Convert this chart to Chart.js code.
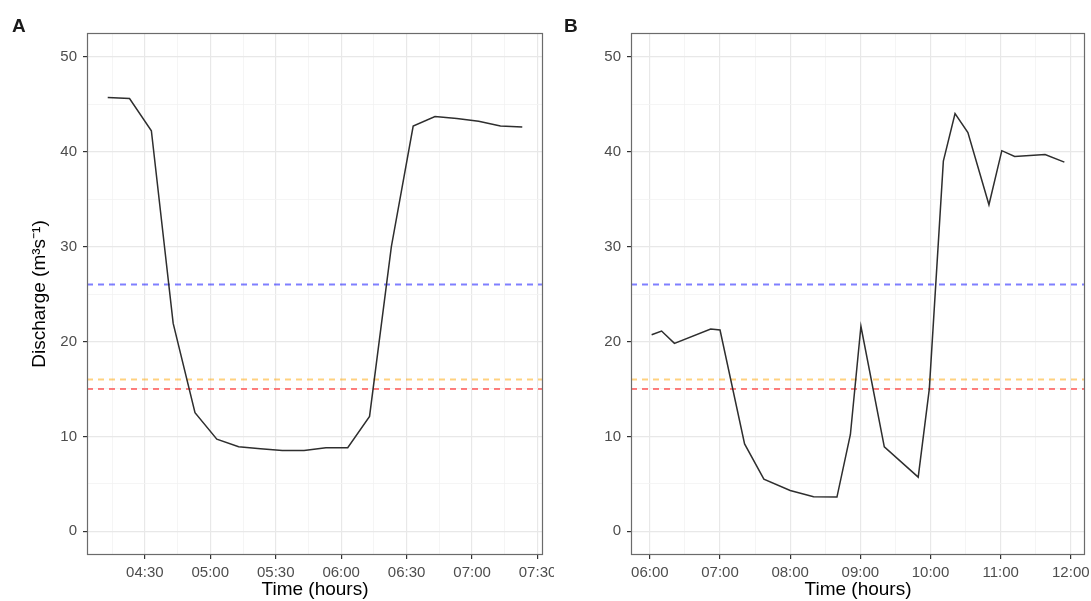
<!DOCTYPE html>
<html>
<head>
<meta charset="utf-8">
<script src="https://cdn.jsdelivr.net/npm/chart.js@4/dist/chart.umd.min.js"></script>
<style>
  html, body { margin: 0; padding: 0; background: #fff; }
  #page { position: relative; width: 1091px; height: 601px; overflow: hidden; background: #fff; }
  .panel { position: absolute; top: 0; height: 601px; }
  .tag { position: absolute; font: bold 19px 'Liberation Sans', Arial, sans-serif; line-height: 19px; color: #1a1a1a; }
</style>
</head>
<body>
<div id="page">
  <div class="panel" style="left:0; width:554px"><canvas id="chartA"></canvas></div>
  <div class="panel" style="left:554px; width:537px"><canvas id="chartB"></canvas></div>
  <div class="tag" style="left:12px; top:16px">A</div>
  <div class="tag" style="left:564px; top:16px">B</div>
</div>
<script>
// panel A
const timesA = ["04:13", "04:23", "04:33", "04:43", "04:53", "05:03", "05:13", "05:23", "05:33", "05:43",
                "05:53", "06:03", "06:13", "06:23", "06:33", "06:43", "06:53", "07:03", "07:13", "07:23"];
const flowA = [45.7, 45.6, 42.2, 21.9, 12.5, 9.7, 8.9, 8.7, 8.5, 8.5,
               8.8, 8.8, 12.1, 30.0, 42.7, 43.7, 43.5, 43.2, 42.7, 42.6];
const xTicksA = ["04:30", "05:00", "05:30", "06:00", "06:30", "07:00", "07:30"];

// panel B
const timesB = ["06:01:30", "06:10", "06:21", "06:52", "07:00", "07:21", "07:37:30", "08:00", "08:20", "08:40",
                "08:51:30", "09:00:30", "09:20:30", "09:49:30", "09:59", "10:11", "10:21", "10:32", "10:50", "11:01",
                "11:12", "11:38", "11:54:30"];
const flowB = [20.7, 21.1, 19.8, 21.3, 21.2, 9.2, 5.5, 4.3, 3.65, 3.6,
               10.2, 21.6, 8.9, 5.7, 15.0, 39.0, 44.0, 42.0, 34.4, 40.1,
               39.5, 39.7, 38.9];
const xTicksB = ["06:00", "07:00", "08:00", "09:00", "10:00", "11:00", "12:00"];

// shared
const yTicks = [0, 10, 20, 30, 40, 50];
const thresholds = [26, 16, 15];
const thresholdColors = ["rgba(0,0,255,0.5)", "rgba(255,165,0,0.5)", "rgba(255,0,0,0.5)"];

const FONT = "'Liberation Sans', Arial, sans-serif";
Chart.defaults.font.family = FONT;

function toMin(t) {
  const p = t.split(":").map(Number);
  return p[0] * 60 + p[1] + (p[2] || 0) / 60;
}
function fmt(m) {
  const h = Math.floor(m / 60), mm = Math.round(m - h * 60);
  return String(h).padStart(2, "0") + ":" + String(mm).padStart(2, "0");
}
// major ticks plus the minor ones half way between (ggplot style)
function withMinor(major, lo, hi) {
  const step = major[1] - major[0];
  const out = [];
  for (let i = -1; i < major.length; i++) {
    const v = i < 0 ? major[0] - step / 2 : major[i];
    if (i >= 0) out.push({ value: v, major: true });
    const m = i < 0 ? v : v + step / 2;
    if (m >= lo && m <= hi) out.push({ value: m, major: false });
  }
  return out.sort((a, b) => a.value - b.value);
}

const frame = {
  id: "frame",
  afterDraw(chart) {
    const { ctx, chartArea: a } = chart;
    ctx.save();
    ctx.strokeStyle = "#6b6b6b";
    ctx.lineWidth = 1.2;
    ctx.strokeRect(Math.round(a.left) + 0.5, Math.round(a.top) + 0.5,
                   Math.round(a.right - a.left) - 1, Math.round(a.bottom - a.top) - 1);
    ctx.restore();
  }
};

function makePanel(id, times, flows, tickLabels, yWidth, rightPad, showTitle) {
  const xs = times.map(toMin);
  const span = xs[xs.length - 1] - xs[0];
  const xMin = xs[0] - 0.05 * span, xMax = xs[xs.length - 1] + 0.05 * span;
  const yMin = yTicks[0] - 0.05 * (yTicks[yTicks.length - 1] - yTicks[0]);
  const yMax = yTicks[yTicks.length - 1] + 0.05 * (yTicks[yTicks.length - 1] - yTicks[0]);

  const datasets = [{
    data: xs.map((x, i) => ({ x: x, y: flows[i] })),
    borderColor: "#2e2e2e",
    borderWidth: 1.5,
    pointRadius: 0,
    tension: 0,
    fill: false
  }];
  thresholds.forEach((v, i) => {
    datasets.push({
      data: [{ x: xMin, y: v }, { x: xMax, y: v }],
      borderColor: thresholdColors[i],
      borderWidth: 2,
      borderDash: [6, 5],
      pointRadius: 0,
      fill: false
    });
  });

  const gridColor = c => (c.tick && c.tick.major ? "#e8e8e8" : "#f2f2f2");
  const gridWidth = c => (c.tick && c.tick.major ? 1.2 : 0.8);
  const tickColor = c => (c.tick && c.tick.major ? "#333" : "rgba(0,0,0,0)");

  return new Chart(document.getElementById(id), {
    type: "line",
    data: { datasets: datasets },
    options: {
      responsive: true,
      maintainAspectRatio: false,
      animation: false,
      devicePixelRatio: 1,
      layout: { padding: { left: 0, right: rightPad, top: 33, bottom: 0 } },
      plugins: { legend: { display: false }, tooltip: { enabled: false } },
      scales: {
        x: {
          type: "linear",
          min: xMin,
          max: xMax,
          afterBuildTicks: s => { s.ticks = withMinor(tickLabels.map(toMin), xMin, xMax); },
          afterFit: s => { s.height = 46; s.paddingLeft = 0; s.paddingRight = 0; },
          ticks: {
            autoSkip: false, maxRotation: 0, padding: 5,
            color: "#4d4d4d", font: { size: 15 },
            callback: (v, i, t) => (t[i].major ? fmt(v) : "")
          },
          grid: { color: gridColor, lineWidth: gridWidth, tickColor: tickColor, tickLength: 4, tickWidth: 1.2 },
          border: { display: false },
          title: { display: true, text: "Time (hours)", color: "#000", font: { size: 19 }, padding: { top: 0, bottom: 0 } }
        },
        y: {
          min: yMin,
          max: yMax,
          afterBuildTicks: s => { s.ticks = withMinor(yTicks, yMin, yMax); },
          afterFit: s => { s.width = yWidth; s.paddingTop = 0; s.paddingBottom = 0; },
          ticks: {
            autoSkip: false, padding: 6,
            color: "#4d4d4d", font: { size: 15 },
            callback: (v, i, t) => (t[i].major ? String(v) : "")
          },
          grid: { color: gridColor, lineWidth: gridWidth, tickColor: tickColor, tickLength: 4, tickWidth: 1.2 },
          border: { display: false },
          title: { display: showTitle, text: "Discharge (m\u00B3s\u207B\u00B9)", color: "#000", font: { size: 19 }, padding: { top: 28.6, bottom: 0 } }
        }
      }
    },
    plugins: [frame]
  });
}

makePanel("chartA", timesA, flowA, xTicksA, 87, 11, true);
makePanel("chartB", timesB, flowB, xTicksB, 77, 6, false);
</script>
</body>
</html>
